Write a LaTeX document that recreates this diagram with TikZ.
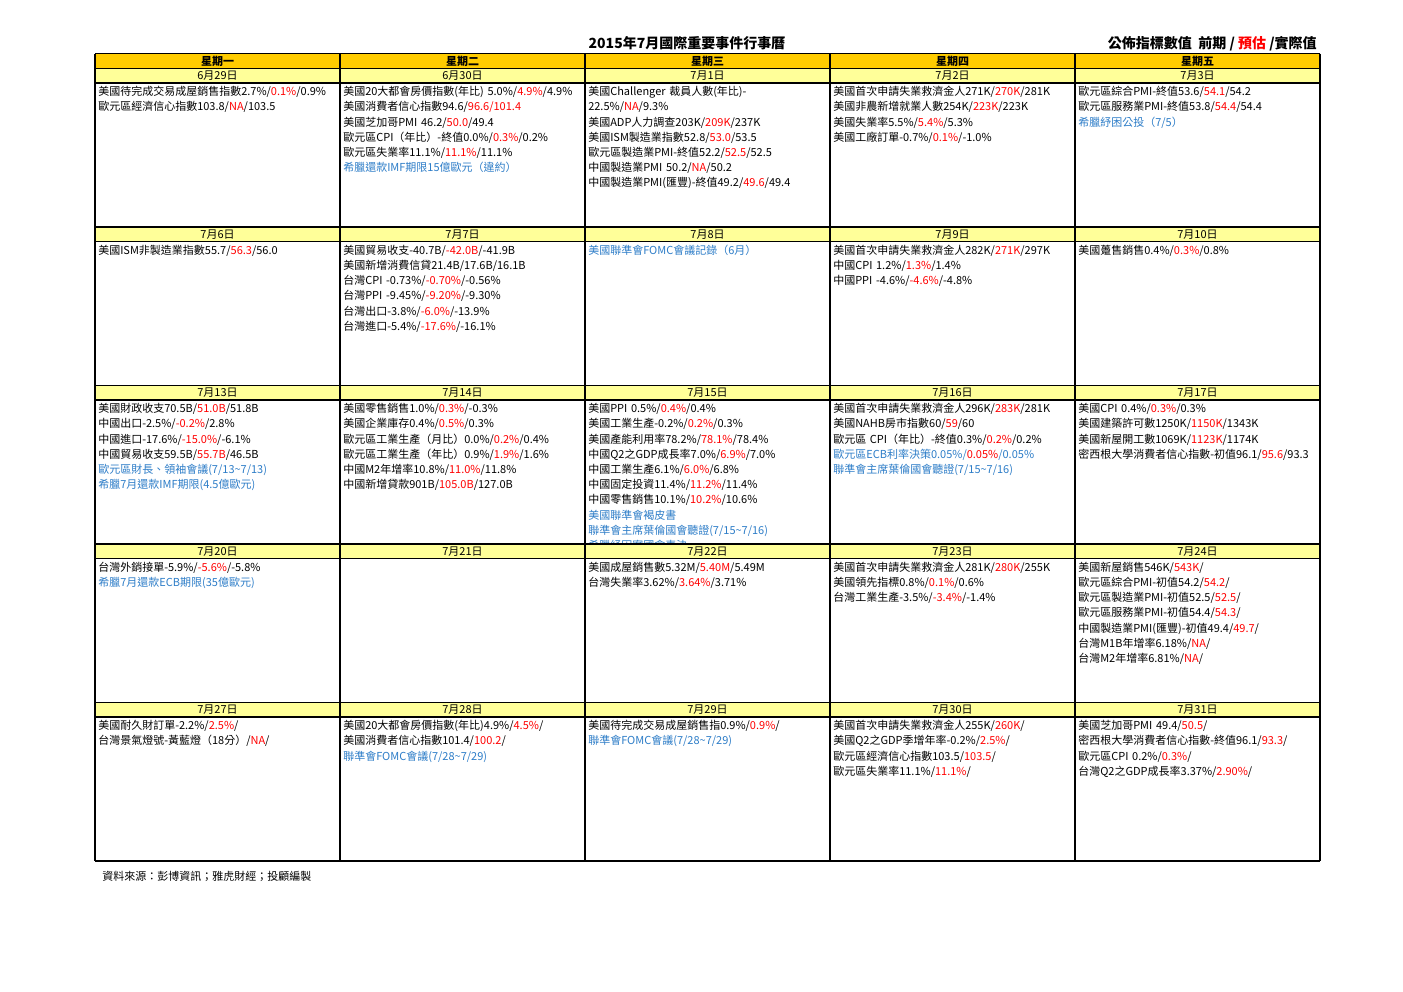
\documentclass[tikz,border=0pt]{standalone}
\usepackage{fontspec}
\setmainfont{Noto Sans CJK TC}
\definecolor{hdrorange}{RGB}{255,204,0}
\definecolor{dayyellow}{RGB}{255,255,153}
\definecolor{valred}{RGB}{255,0,0}
\definecolor{evblue}{RGB}{45,125,200}
\newcommand\redval[1]{\textcolor{valred}{#1}}
\newcommand\blueln[1]{\textcolor{evblue}{#1}}
\newcommand\tld{\char"007E\relax}
\tikzset{
  celltext/.style={anchor=base west, inner sep=0pt, text width=182pt, align=left,
    font=\fontsize{8.25}{11.4}\selectfont},
  daytext/.style={inner sep=0pt, font=\fontsize{8.25}{10}\selectfont},
  hdrtext/.style={inner sep=0pt, font=\bfseries\fontsize{8.25}{10}\selectfont},
  titletext/.style={inner sep=0pt, font=\bfseries\fontsize{10.5}{12}\selectfont},
  gridline/.style={line width=1pt, draw=black},
}
\newcommand\celltxt[3]{%
  \node[celltext] (t#1#2) at ({98+245*#1},{95.7+158.5*#2}) {#3};}
\begin{document}
\begin{tikzpicture}[x=0.75pt,y=-0.75pt]
\useasboundingbox (0,0) rectangle (1403,992);
\fill[white] (0,0) rectangle (1403,992);
% title
\node[titletext] (title) at (687,43) {2015年7月國際重要事件行事曆};
\node[titletext, anchor=east] (legend) at (1317,44) {公佈指標數值\ \ 前期 / \redval{預估} /實際值};
% ---------- row 0
\celltxt{0}{0}{美國待完成交易成屋銷售指數2.7\%/\redval{0.1\%}/0.9\%\\
歐元區經濟信心指數103.8/\redval{NA}/103.5}
\celltxt{1}{0}{美國20大都會房價指數(年比) 5.0\%/\redval{4.9\%}/4.9\%\\
美國消費者信心指數94.6/\redval{96.6/101.4}\\
美國芝加哥PMI 46.2/\redval{50.0}/49.4\\
歐元區CPI（年比）-終值0.0\%/\redval{0.3\%}/0.2\%\\
歐元區失業率11.1\%/\redval{11.1\%}/11.1\%\\
\blueln{希臘還款IMF期限15億歐元（違約）}}
\celltxt{2}{0}{美國Challenger 裁員人數(年比)-\\
22.5\%/\redval{NA}/9.3\%\\
美國ADP人力調查203K/\redval{209K}/237K\\
美國ISM製造業指數52.8/\redval{53.0}/53.5\\
歐元區製造業PMI-終值52.2/\redval{52.5}/52.5\\
中國製造業PMI 50.2/\redval{NA}/50.2\\
中國製造業PMI(匯豐)-終值49.2/\redval{49.6}/49.4}
\celltxt{3}{0}{美國首次申請失業救濟金人271K/\redval{270K}/281K\\
美國非農新增就業人數254K/\redval{223K}/223K\\
美國失業率5.5\%/\redval{5.4\%}/5.3\%\\
美國工廠訂單-0.7\%/\redval{0.1\%}/-1.0\%}
\celltxt{4}{0}{歐元區綜合PMI-終值53.6/\redval{54.1}/54.2\\
歐元區服務業PMI-終值53.8/\redval{54.4}/54.4\\
\blueln{希臘紓困公投（7/5）}}
% ---------- row 1
\celltxt{0}{1}{美國ISM非製造業指數55.7/\redval{56.3}/56.0}
\celltxt{1}{1}{美國貿易收支-40.7B/\redval{-42.0B}/-41.9B\\
美國新增消費信貸21.4B/17.6B/16.1B\\
台灣CPI -0.73\%/\redval{-0.70\%}/-0.56\%\\
台灣PPI -9.45\%/\redval{-9.20\%}/-9.30\%\\
台灣出口-3.8\%/\redval{-6.0\%}/-13.9\%\\
台灣進口-5.4\%/\redval{-17.6\%}/-16.1\%}
\celltxt{2}{1}{\blueln{美國聯準會FOMC會議記錄（6月）}}
\celltxt{3}{1}{美國首次申請失業救濟金人282K/\redval{271K}/297K\\
中國CPI 1.2\%/\redval{1.3\%}/1.4\%\\
中國PPI -4.6\%/\redval{-4.6\%}/-4.8\%}
\celltxt{4}{1}{美國躉售銷售0.4\%/\redval{0.3\%}/0.8\%}
% ---------- row 2
\celltxt{0}{2}{美國財政收支70.5B/\redval{51.0B}/51.8B\\
中國出口-2.5\%/\redval{-0.2\%}/2.8\%\\
中國進口-17.6\%/\redval{-15.0\%}/-6.1\%\\
中國貿易收支59.5B/\redval{55.7B}/46.5B\\
\blueln{歐元區財長、領袖會議(7/13\tld7/13)}\\
\blueln{希臘7月還款IMF期限(4.5億歐元)}}
\celltxt{1}{2}{美國零售銷售1.0\%/\redval{0.3\%}/-0.3\%\\
美國企業庫存0.4\%/\redval{0.5\%}/0.3\%\\
歐元區工業生產（月比）0.0\%/\redval{0.2\%}/0.4\%\\
歐元區工業生產（年比）0.9\%/\redval{1.9\%}/1.6\%\\
中國M2年增率10.8\%/\redval{11.0\%}/11.8\%\\
中國新增貸款901B/\redval{105.0B}/127.0B}
\celltxt{2}{2}{美國PPI 0.5\%/\redval{0.4\%}/0.4\%\\
美國工業生產-0.2\%/\redval{0.2\%}/0.3\%\\
美國產能利用率78.2\%/\redval{78.1\%}/78.4\%\\
中國Q2之GDP成長率7.0\%/\redval{6.9\%}/7.0\%\\
中國工業生產6.1\%/\redval{6.0\%}/6.8\%\\
中國固定投資11.4\%/\redval{11.2\%}/11.4\%\\
中國零售銷售10.1\%/\redval{10.2\%}/10.6\%\\
\blueln{美國聯準會褐皮書}\\
\blueln{聯準會主席葉倫國會聽證(7/15\tld7/16)}\\
\blueln{希臘紓困案國會表決}}
\celltxt{3}{2}{美國首次申請失業救濟金人296K/\redval{283K}/281K\\
美國NAHB房市指數60/\redval{59}/60\\
歐元區 CPI（年比）-終值0.3\%/\redval{0.2\%}/0.2\%\\
\blueln{歐元區ECB利率決策0.05\%/}\redval{0.05\%}\blueln{/0.05\%}\\
\blueln{聯準會主席葉倫國會聽證(7/15\tld7/16)}}
\celltxt{4}{2}{美國CPI 0.4\%/\redval{0.3\%}/0.3\%\\
美國建築許可數1250K/\redval{1150K}/1343K\\
美國新屋開工數1069K/\redval{1123K}/1174K\\
密西根大學消費者信心指數-初值96.1/\redval{95.6}/93.3}
% ---------- row 3
\celltxt{0}{3}{台灣外銷接單-5.9\%/\redval{-5.6\%}/-5.8\%\\
\blueln{希臘7月還款ECB期限(35億歐元)}}
\celltxt{2}{3}{美國成屋銷售數5.32M/\redval{5.40M}/5.49M\\
台灣失業率3.62\%/\redval{3.64\%}/3.71\%}
\celltxt{3}{3}{美國首次申請失業救濟金人281K/\redval{280K}/255K\\
美國領先指標0.8\%/\redval{0.1\%}/0.6\%\\
台灣工業生產-3.5\%/\redval{-3.4\%}/-1.4\%}
\celltxt{4}{3}{美國新屋銷售546K/\redval{543K}/\\
歐元區綜合PMI-初值54.2/\redval{54.2}/\\
歐元區製造業PMI-初值52.5/\redval{52.5}/\\
歐元區服務業PMI-初值54.4/\redval{54.3}/\\
中國製造業PMI(匯豐)-初值49.4/\redval{49.7}/\\
台灣M1B年增率6.18\%/\redval{NA}/\\
台灣M2年增率6.81\%/\redval{NA}/}
% ---------- row 4
\celltxt{0}{4}{美國耐久財訂單-2.2\%/\redval{2.5\%}/\\
台灣景氣燈號-黃藍燈（18分）/\redval{NA}/}
\celltxt{1}{4}{美國20大都會房價指數(年比)4.9\%/\redval{4.5\%}/\\
美國消費者信心指數101.4/\redval{100.2}/\\
\blueln{聯準會FOMC會議(7/28\tld7/29)}}
\celltxt{2}{4}{美國待完成交易成屋銷售指0.9\%/\redval{0.9\%}/\\
\blueln{聯準會FOMC會議(7/28\tld7/29)}}
\celltxt{3}{4}{美國首次申請失業救濟金人255K/\redval{260K}/\\
美國Q2之GDP季增年率-0.2\%/\redval{2.5\%}/\\
歐元區經濟信心指數103.5/\redval{103.5}/\\
歐元區失業率11.1\%/\redval{11.1\%}/}
\celltxt{4}{4}{美國芝加哥PMI 49.4/\redval{50.5}/\\
密西根大學消費者信心指數-終值96.1/\redval{93.3}/\\
歐元區CPI 0.2\%/\redval{0.3\%}/\\
台灣Q2之GDP成長率3.37\%/\redval{2.90\%}/}
% ---------- fills
\fill[hdrorange] (95,53.5) rectangle (1320,68.5);
\foreach \r in {0,...,4}{
  \fill[dayyellow] (95,{68.5+158.5*\r}) rectangle (1320,{83+158.5*\r});
}
% header labels
\foreach \c/\w in {0/一,1/二,2/三,3/四,4/五}{
  \node[hdrtext] (wd\c) at ({217.5+245*\c},61) {星期\w{}};
}
% date labels
\foreach \c/\dd in {0/29,1/30}{
  \node[daytext] (date0\c) at ({217.5+245*\c},75.75) {6月\dd{}日};
}
\foreach \c/\dd in {2/1,3/2,4/3}{
  \node[daytext] (date0\c) at ({217.5+245*\c},75.75) {7月\dd{}日};
}
\foreach \r/\s in {1/6,2/13,3/20,4/27}{
  \foreach \c in {0,...,4}{
    \pgfmathtruncatemacro\dd{\s+\c}
    \node[daytext] (date\r\c) at ({217.5+245*\c},{75.75+158.5*\r}) {7月\dd{}日};
  }
}
% grid
\foreach \x in {95,340,585,830,1075,1320}{
  \draw[gridline] (\x,53.5) -- (\x,861);
}
\draw[gridline] (95,53.5) -- (1320,53.5);
\foreach \r in {0,...,4}{
  \draw[gridline] (95,{68.5+158.5*\r}) -- (1320,{68.5+158.5*\r});
  \draw[gridline] (95,{83+158.5*\r}) -- (1320,{83+158.5*\r});
}
\draw[gridline] (95,861) -- (1320,861);
% footer
\node[inner sep=0pt, anchor=west, font=\fontsize{8.25}{10}\selectfont] (source) at (102,876) {資料來源：彭博資訊；雅虎財經；投顧編製};
\end{tikzpicture}
\end{document}
